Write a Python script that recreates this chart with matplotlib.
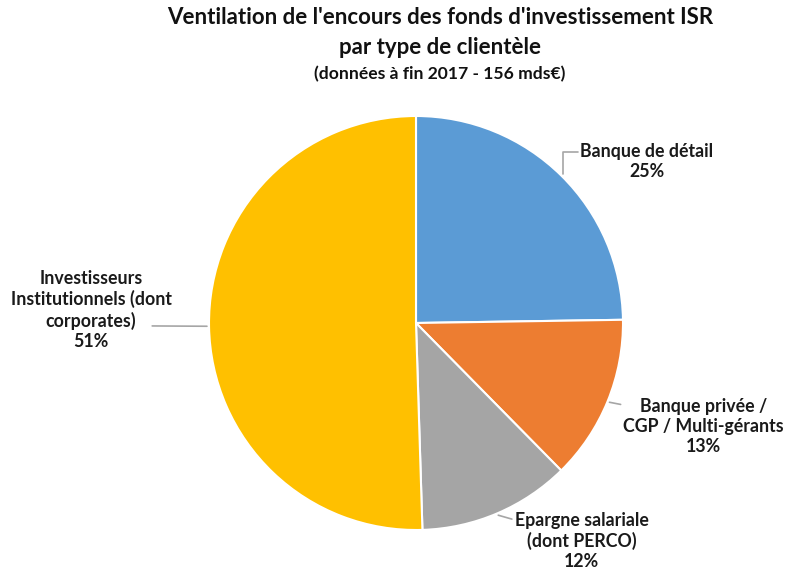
import numpy as np
import matplotlib
matplotlib.use("Agg")
import matplotlib.pyplot as plt

plt.rcParams['font.family'] = ['Lato', 'DejaVu Sans']

# data (percent of 156 bn EUR, end 2017)
categories = ["Banque de détail", "Banque privée /\nCGP / Multi-gérants",
              "Epargne salariale\n(dont PERCO)", "Investisseurs\nInstitutionnels (dont\ncorporates)"]
shares = [25, 13, 12, 51]
colors = ["#5B9BD5", "#ED7D31", "#A5A5A5", "#FFC000"]

# label placement (data coords, pie radius = 1) and leader anchor on text box
label_pos = [(1.116, 0.780), (1.39, -0.502), (0.80, -1.053), (-1.57, 0.063)]
label_relpos = [(0.0, 0.75), (0.08, 0.84), (0.0, 0.86), (0.88, 0.30)]
label_conn = ["angle,angleA=0,angleB=90,rad=0", "arc3", "arc3", "arc3"]

W, H = 792, 573
fig = plt.figure(figsize=(W / 100, H / 100), dpi=100)
cx, cy, r = 416, 573 - 323, 207
ax = fig.add_axes([(cx - r) / W, (cy - r) / H, 2 * r / W, 2 * r / H])

wedges, _ = ax.pie(shares, colors=colors, startangle=90, counterclock=False,
                   radius=1.0, wedgeprops=dict(edgecolor="white", linewidth=1.5))
ax.set_xlim(-1, 1)
ax.set_ylim(-1, 1)
ax.set_aspect("equal")
ax.axis("off")

for i, (w, cat, val, pos, rp, cs) in enumerate(zip(wedges, categories, shares, label_pos,
                                                   label_relpos, label_conn)):
    mid = np.deg2rad((w.theta1 + w.theta2) / 2)
    xy = (1.01 * np.cos(mid), 1.01 * np.sin(mid))
    props = dict(arrowstyle="-", color="#a6a6a6", lw=1.2, shrinkA=0, shrinkB=0,
                 relpos=rp, connectionstyle=cs)
    if i == 3:
        # leader starts inside the text box, next to "corporates)"
        props["patchA"] = None
    ax.annotate(f"{cat}\n{val}%", xy=xy, xytext=pos,
                ha="center", va="center", fontsize=12.8, fontweight="bold",
                color="#1a1a1a", linespacing=1.22, annotation_clip=False,
                arrowprops=props)

fig.text(440 / W, 1 - 18 / H, "Ventilation de l'encours des fonds d'investissement ISR",
         ha="center", va="center", fontsize=16, fontweight="bold", color="#111111")
fig.text(440 / W, 1 - 47 / H, "par type de clientèle",
         ha="center", va="center", fontsize=16, fontweight="bold", color="#111111")
fig.text(440 / W, 1 - 74 / H, "(données à fin 2017 - 156 mds€)",
         ha="center", va="center", fontsize=12.6, fontweight="bold", color="#111111")

fig.savefig("out.png", dpi=100, facecolor="white")
